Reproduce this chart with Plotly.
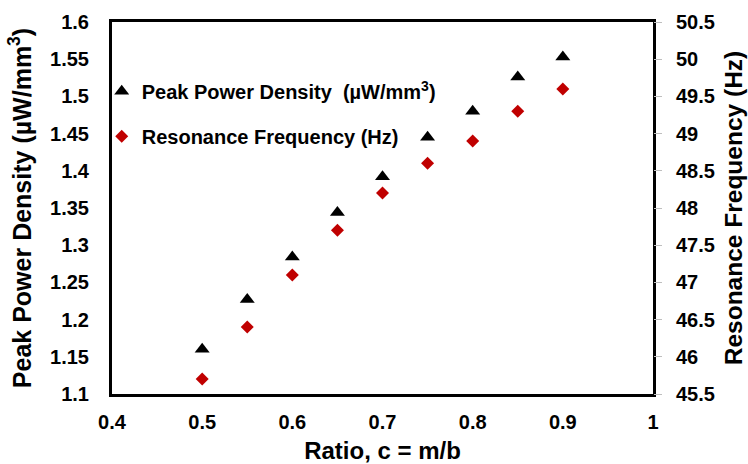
import plotly.graph_objects as go

ratio = [0.5, 0.55, 0.6, 0.65, 0.7, 0.75, 0.8, 0.85, 0.9]
power_density = [1.16, 1.227, 1.284, 1.344, 1.392, 1.445, 1.48, 1.526, 1.553]
res_freq = [45.7, 46.4, 47.1, 47.7, 48.2, 48.6, 48.9, 49.3, 49.6]

FONT = "Liberation Sans, Arial, sans-serif"

fig = go.Figure()
fig.add_trace(go.Scatter(
    x=ratio, y=power_density, mode="markers",
    name="Peak Power Density  (µW/mm<sup>3</sup>)",
    marker=dict(symbol="triangle-up", size=13, color="black"),
    legendgroup="a", yaxis="y"))
fig.add_trace(go.Scatter(
    x=ratio, y=res_freq, mode="markers",
    name="Resonance Frequency (Hz)",
    marker=dict(symbol="diamond", size=10, color="#C00000"),
    legendgroup="b", yaxis="y2"))

fig.update_layout(
    width=748, height=464,
    margin=dict(l=112, r=95, t=22, b=70, autoexpand=False),
    paper_bgcolor="white", plot_bgcolor="white",
    font=dict(family=FONT, color="black"),
    showlegend=True,
    legend=dict(x=-0.019, y=0.866, xanchor="left", yanchor="top",
                bgcolor="rgba(0,0,0,0)", traceorder="grouped", tracegroupgap=16,
                font=dict(family=FONT, size=20, weight="bold", color="black"),
                itemwidth=30),
    xaxis=dict(range=[0.4, 1.0], dtick=0.1, tick0=0.4,
               showgrid=False, zeroline=False,
               showline=True, linecolor="black", linewidth=3, mirror=True,
               ticks="", ticklabelstandoff=8,
               tickfont=dict(family=FONT, size=20, weight="bold"),
               title=dict(text="Ratio, c = m/b", standoff=11,
                          font=dict(family=FONT, size=24, weight="bold"))),
    yaxis=dict(range=[1.1, 1.6], dtick=0.05, tick0=1.1,
               showgrid=False, zeroline=False,
               showline=True, linecolor="black", linewidth=3, mirror=True,
               ticks="", ticklabelstandoff=16,
               tickfont=dict(family=FONT, size=20, weight="bold"),
               title=dict(text="Peak Power Density (µW/mm<sup>3</sup>)", standoff=12,
                          font=dict(family=FONT, size=25, weight="bold"))),
    yaxis2=dict(range=[45.5, 50.5], dtick=0.5, tick0=45.5,
                overlaying="y", side="right", anchor="x",
                showgrid=False, zeroline=False, showline=False,
                ticks="outside", ticklen=8, tickcolor="#BFBFBF", tickwidth=1,
                ticklabelstandoff=10,
                tickfont=dict(family=FONT, size=20, weight="bold"),
                title=dict(text="Resonance Frequency (Hz)", standoff=10,
                           font=dict(family=FONT, size=24.5, weight="bold"))),
)

fig.write_html("out.html")
